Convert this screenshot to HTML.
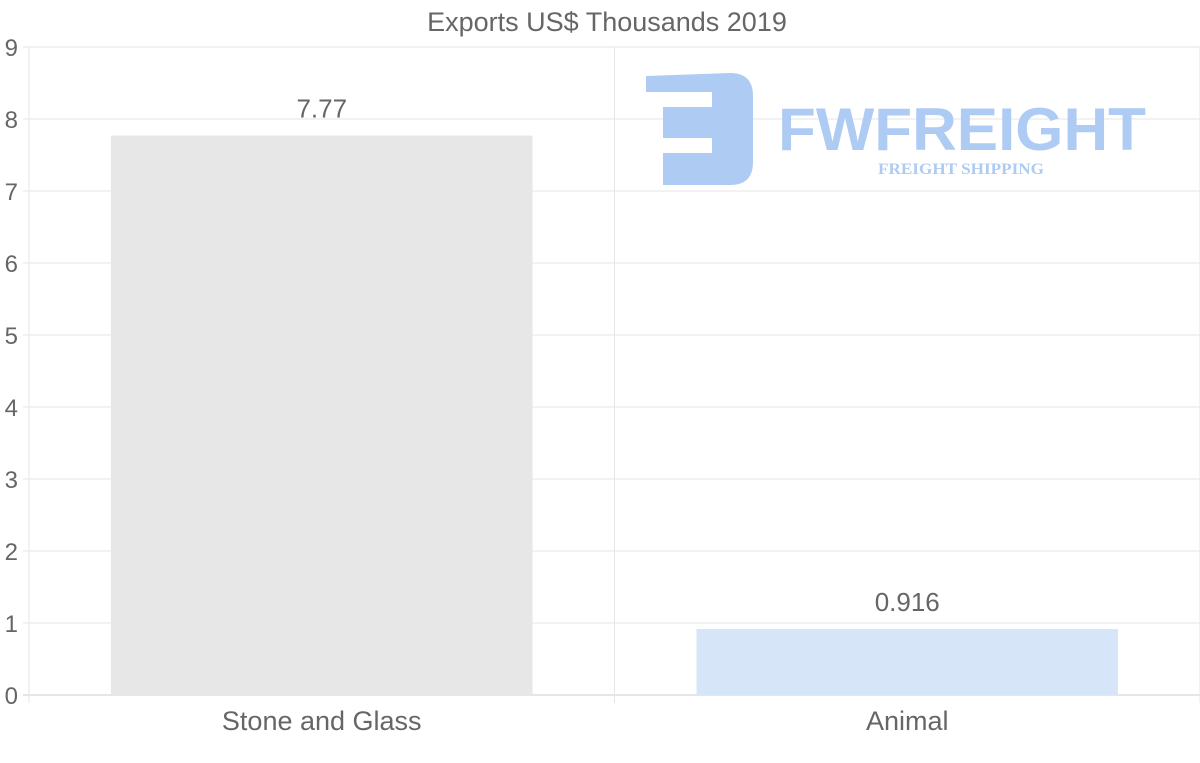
<!DOCTYPE html>
<html><head><meta charset="utf-8"><style>
html,body{margin:0;padding:0;background:#fff;}
svg{display:block;font-family:"Liberation Sans",sans-serif;}
</style></head><body>
<svg id="chart" width="1200" height="763" viewBox="0 0 1200 763">
<text x="607" y="31" text-anchor="middle" font-size="27" fill="#666">Exports US$ Thousands 2019</text>
<g id="grid"></g>
<g id="watermark" fill="#aecbf3">
<path d="M646,76 L730,73 Q753,73 753,96 L753,162 Q753,185 730,185 L663,185 L663,153 L712,153 L712,138 L663,138 L663,107 L712,107 L712,92 L646,92 Z"/>
<text x="778" y="150" font-size="60" font-weight="bold" textLength="368" lengthAdjust="spacingAndGlyphs">FWFREIGHT</text>
<text x="878" y="174" font-size="16" font-weight="bold" font-family="Liberation Serif,serif" textLength="166" lengthAdjust="spacingAndGlyphs">FREIGHT SHIPPING</text>
</g>
<g id="bars"></g>
<g id="axes"></g>
</svg>
<script>
const categories = ["Stone and Glass", "Animal"];
const values = [7.77, 0.916];
const valueLabels = ["7.77", "0.916"];
const yTicks = [0,1,2,3,4,5,6,7,8,9];
const NS="http://www.w3.org/2000/svg";
const x0=29,x1=1200,y0=695,yTop=47,yMax=9;
const y=v=>y0-(v/yMax)*(y0-yTop);
const bw=(x1-x0)/categories.length;
const xc=i=>x0+bw*(i+0.5);
function mk(tag,attrs,parent,txt){const e=document.createElementNS(NS,tag);for(const k in attrs)e.setAttribute(k,attrs[k]);if(txt!==undefined)e.textContent=txt;parent.appendChild(e);return e;}
const grid=document.getElementById('grid'),bars=document.getElementById('bars'),axes=document.getElementById('axes');
yTicks.forEach(t=>{
  const l=mk('line',{x1:x0-6,x2:x1,y1:y(t),y2:y(t),stroke:t===0?'#ccc':'#e6e6e6','stroke-width':1},grid);
  
  
  const tx=mk('text',{x:18,y:y(t)+9,'text-anchor':'end','font-size':24,fill:'#666'},axes,String(t));
  
  
});
for(let i=0;i<=categories.length;i++){
  const gx=x0+bw*i;
  const l=mk('line',{x1:gx,x2:gx,y1:yTop,y2:y0+8,stroke:'#e6e6e6','stroke-width':1},grid);
  
  
}
const colors=['#e7e7e7','#d6e6f8'];
categories.forEach((c,i)=>{
  const w=bw*0.72;
  const r=mk('rect',{x:xc(i)-w/2,y:y(values[i]),width:w,height:y0-y(values[i]),fill:colors[i]},bars);
  
  
  const vl=mk('text',{x:xc(i),y:y(values[i])-18,'text-anchor':'middle','font-size':26,fill:'#666'},bars,valueLabels[i]);
  
  
  const xl=mk('text',{x:xc(i),y:730,'text-anchor':'middle','font-size':27,fill:'#666'},axes,c);
  
  
});
</script>
</body></html>
